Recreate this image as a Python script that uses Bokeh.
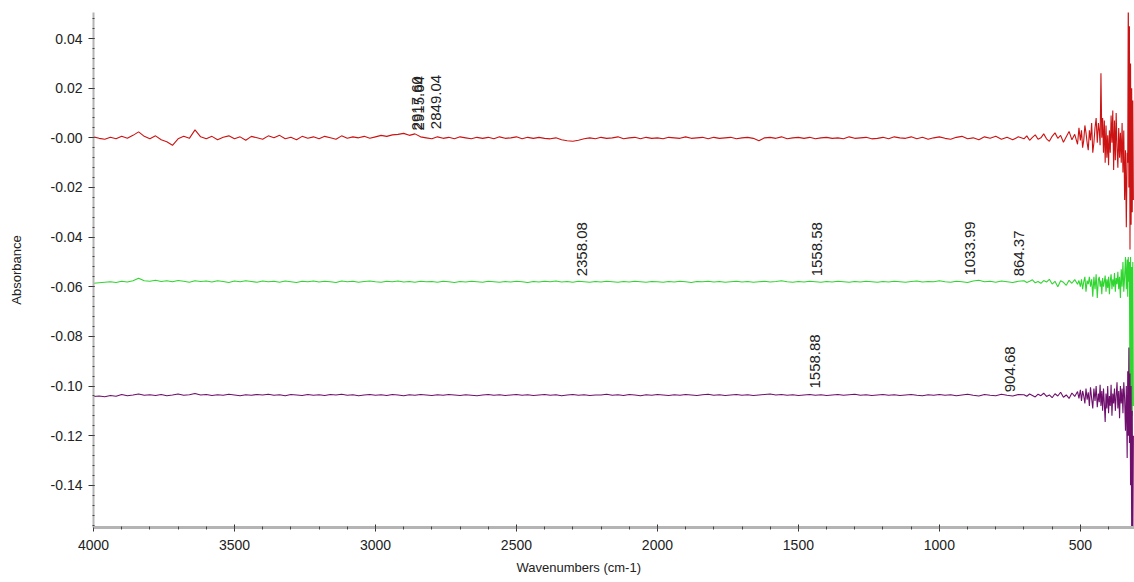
import math
from bokeh.plotting import figure
from bokeh.models import Range1d, SingleIntervalTicker, CustomJSTickFormatter, ColumnDataSource, Title
from bokeh.core.properties import value
from bokeh.embed import file_html
from bokeh.resources import INLINE

# ---------------- data ----------------
# wavenumber sampling (cm-1)
wn_flat = list(range(4000, 719, -20))          # 165 samples
wn_mid = list(range(700, 509, -10))            # 20 samples
wn_end = [505, 500, 496, 492, 488, 484, 480, 476, 472, 468, 464, 460, 456, 452, 448, 444, 440, 436,
          433, 430, 427, 424, 421, 418, 415, 412, 409, 406, 403, 400, 397, 394, 391, 388, 385, 382,
          379, 376, 373, 370, 367, 364, 361, 358, 355, 352, 349, 346, 343, 340, 337, 334,
          332, 330, 328, 326, 324, 322, 320, 318, 316, 314, 312]
wavenumbers = wn_flat + wn_mid + wn_end

red_absorbance = [
    # 4000 - 720
    0.0004, -0.0002, -0.0006, 0.0002, -0.0004, 0.0006, -0.0002, 0.0010, 0.0024, 0.0006,
    -0.0004, 0.0008, -0.0008, -0.0016, -0.0030, -0.0004, 0.0006, -0.0002, 0.0032, 0.0004,
    -0.0004, 0.0006, -0.0008, 0.0002, 0.0008, -0.0004, 0.0004, -0.0010, 0.0006, 0.0000,
    -0.0006, 0.0008, 0.0000, 0.0010, -0.0004, 0.0002, -0.0008, 0.0006, -0.0002, 0.0004,
    -0.0004, 0.0006, 0.0000, -0.0006, 0.0008, -0.0002, 0.0004, 0.0000, 0.0006, -0.0002,
    0.0004, 0.0010, 0.0006, 0.0012, 0.0014, 0.0018, 0.0010, 0.0016, 0.0004, 0.0000,
    -0.0004, 0.0004, -0.0002, 0.0002, -0.0004, 0.0004, 0.0000, -0.0004, 0.0002, -0.0002,
    0.0002, -0.0004, 0.0004, -0.0002, 0.0000, 0.0004, -0.0004, 0.0002, -0.0002, 0.0002,
    -0.0002, -0.0004, 0.0000, -0.0008, -0.0012, -0.0014, -0.0010, -0.0004, 0.0000, -0.0004,
    0.0002, -0.0002, 0.0000, 0.0004, -0.0004, 0.0000, 0.0002, -0.0004, 0.0002, -0.0002,
    0.0000, -0.0004, 0.0002, 0.0000, -0.0002, 0.0004, -0.0002, 0.0000, 0.0002, -0.0004,
    0.0002, -0.0002, 0.0000, 0.0002, -0.0004, 0.0000, 0.0002, -0.0002, -0.0012, 0.0000,
    0.0002, -0.0002, 0.0004, -0.0004, 0.0000, 0.0002, -0.0002, 0.0002, -0.0004, 0.0000,
    0.0002, -0.0002, 0.0000, -0.0004, 0.0004, -0.0002, 0.0000, 0.0002, -0.0004, -0.0002,
    0.0002, -0.0004, 0.0004, 0.0000, -0.0002, 0.0004, -0.0004, 0.0002, -0.0006, 0.0000,
    0.0004, -0.0002, -0.0006, 0.0002, 0.0006, -0.0004, 0.0000, -0.0008, 0.0004, -0.0002,
    0.0006, -0.0006, 0.0002, -0.0008, 0.0004,
    # 700 - 510
    -0.0004, 0.0008, -0.0010, 0.0002, 0.0012, -0.0006, 0.0000, 0.0016, -0.0004, -0.0014,
    0.0006, 0.0020, -0.0002, 0.0010, -0.0018, 0.0004, 0.0026, -0.0008, 0.0014, -0.0026,
    # 505 - 312
    0.0040, -0.0010, 0.0030, -0.0040, -0.0010, 0.0050, 0.0020, -0.0020, -0.0050, 0.0030,
    -0.0010, 0.0060, -0.0060, -0.0020, 0.0040, 0.0080, -0.0020, 0.0060,
    0.0030, -0.0030, 0.0260, 0.0000, 0.0080, -0.0060, 0.0070, -0.0100, 0.0050, -0.0080,
    0.0010, -0.0110, 0.0030, -0.0060, 0.0090, -0.0020, 0.0110, -0.0130, 0.0070, -0.0090,
    0.0100, -0.0040, -0.0120, 0.0040, -0.0080, 0.0020, -0.0100, 0.0060, -0.0140, 0.0030,
    -0.0250, -0.0050, -0.0360, -0.0060,
    -0.0100, 0.0600, -0.0200, 0.0450, -0.0450, 0.0300, -0.0350, 0.0200, -0.0300, 0.0150, -0.0250,
]

green_absorbance = [
    # 4000 - 720
    -0.0586, -0.0584, -0.0582, -0.0580, -0.0583, -0.0578, -0.0581, -0.0576, -0.0566, -0.0576,
    -0.0578, -0.0574, -0.0579, -0.0576, -0.0580, -0.0575, -0.0578, -0.0582, -0.0576, -0.0579,
    -0.0577, -0.0581, -0.0576, -0.0579, -0.0583, -0.0577, -0.0580, -0.0576, -0.0579, -0.0582,
    -0.0577, -0.0580, -0.0578, -0.0582, -0.0577, -0.0580, -0.0583, -0.0578, -0.0580, -0.0577,
    -0.0581, -0.0578, -0.0580, -0.0583, -0.0577, -0.0580, -0.0578, -0.0582, -0.0579, -0.0577,
    -0.0580, -0.0582, -0.0578, -0.0580, -0.0577, -0.0581, -0.0579, -0.0582, -0.0578, -0.0580,
    -0.0579, -0.0582, -0.0578, -0.0580, -0.0583, -0.0579, -0.0581, -0.0578, -0.0580, -0.0582,
    -0.0578, -0.0580, -0.0582, -0.0579, -0.0581, -0.0578, -0.0580, -0.0583, -0.0579, -0.0581,
    -0.0578, -0.0580, -0.0577, -0.0581, -0.0579, -0.0582, -0.0578, -0.0580, -0.0582, -0.0579,
    -0.0581, -0.0578, -0.0580, -0.0582, -0.0579, -0.0581, -0.0578, -0.0580, -0.0582, -0.0579,
    -0.0580, -0.0582, -0.0579, -0.0581, -0.0578, -0.0580, -0.0583, -0.0579, -0.0580, -0.0578,
    -0.0581, -0.0579, -0.0582, -0.0580, -0.0578, -0.0581, -0.0579, -0.0582, -0.0580, -0.0578,
    -0.0581, -0.0579, -0.0576, -0.0580, -0.0582, -0.0579, -0.0581, -0.0578, -0.0580, -0.0582,
    -0.0579, -0.0581, -0.0578, -0.0580, -0.0582, -0.0579, -0.0581, -0.0578, -0.0580, -0.0582,
    -0.0579, -0.0581, -0.0578, -0.0580, -0.0582, -0.0579, -0.0577, -0.0581, -0.0579, -0.0580,
    -0.0576, -0.0580, -0.0582, -0.0578, -0.0580, -0.0583, -0.0577, -0.0574, -0.0580, -0.0578,
    -0.0582, -0.0577, -0.0580, -0.0583, -0.0578,
    # 700 - 510
    -0.0576, -0.0583, -0.0578, -0.0572, -0.0584, -0.0579, -0.0586, -0.0575, -0.0581, -0.0570,
    -0.0589, -0.0578, -0.0600, -0.0576, -0.0582, -0.0594, -0.0574, -0.0586, -0.0571, -0.0590,
    # 505 - 312
    -0.0575, -0.0600, -0.0570, -0.0610, -0.0580, -0.0560, -0.0620, -0.0575, -0.0590, -0.0560,
    -0.0600, -0.0570, -0.0640, -0.0560, -0.0610, -0.0550, -0.0645, -0.0570,
    -0.0560, -0.0600, -0.0575, -0.0630, -0.0565, -0.0600, -0.0580, -0.0555, -0.0620, -0.0570,
    -0.0605, -0.0560, -0.0630, -0.0575, -0.0550, -0.0610, -0.0570, -0.0600, -0.0545, -0.0620,
    -0.0565, -0.0590, -0.0540, -0.0610, -0.0560, -0.0645, -0.0530, -0.0600, -0.0500, -0.0620,
    -0.0560, -0.0480, -0.0610, -0.0490,
    -0.0640, -0.0480, -0.0580, -0.0500, -0.1150, -0.0480, -0.1100, -0.0520, -0.1120, -0.0500, -0.1080,
]

purple_absorbance = [
    # 4000 - 720
    -0.1042, -0.1040, -0.1043, -0.1038, -0.1041, -0.1034, -0.1039, -0.1036, -0.1032, -0.1037,
    -0.1035, -0.1038, -0.1034, -0.1039, -0.1036, -0.1032, -0.1037, -0.1035, -0.1030, -0.1036,
    -0.1034, -0.1038, -0.1035, -0.1037, -0.1033, -0.1036, -0.1039, -0.1035, -0.1037, -0.1034,
    -0.1036, -0.1033, -0.1037, -0.1035, -0.1039, -0.1034, -0.1036, -0.1038, -0.1034, -0.1037,
    -0.1035, -0.1038, -0.1034, -0.1036, -0.1033, -0.1037, -0.1035, -0.1039, -0.1036, -0.1034,
    -0.1037, -0.1035, -0.1038, -0.1034, -0.1036, -0.1039, -0.1035, -0.1037, -0.1034, -0.1036,
    -0.1038, -0.1035, -0.1037, -0.1034, -0.1036, -0.1038, -0.1035, -0.1037, -0.1039, -0.1036,
    -0.1034, -0.1037, -0.1035, -0.1038, -0.1036, -0.1034, -0.1037, -0.1035, -0.1038, -0.1036,
    -0.1034, -0.1037, -0.1035, -0.1039, -0.1036, -0.1034, -0.1037, -0.1035, -0.1038, -0.1036,
    -0.1036, -0.1033, -0.1037, -0.1035, -0.1038, -0.1034, -0.1036, -0.1039, -0.1035, -0.1037,
    -0.1034, -0.1036, -0.1038, -0.1035, -0.1037, -0.1034, -0.1036, -0.1038, -0.1035, -0.1033,
    -0.1037, -0.1035, -0.1038, -0.1036, -0.1034, -0.1037, -0.1035, -0.1038, -0.1036, -0.1034,
    -0.1032, -0.1036, -0.1034, -0.1037, -0.1035, -0.1038, -0.1036, -0.1034, -0.1037, -0.1035,
    -0.1038, -0.1036, -0.1034, -0.1037, -0.1035, -0.1033, -0.1037, -0.1035, -0.1038, -0.1036,
    -0.1034, -0.1037, -0.1035, -0.1038, -0.1036, -0.1034, -0.1037, -0.1039, -0.1035, -0.1037,
    -0.1034, -0.1037, -0.1035, -0.1039, -0.1036, -0.1033, -0.1037, -0.1040, -0.1034, -0.1037,
    -0.1039, -0.1033, -0.1037, -0.1040, -0.1034,
    # 700 - 510
    -0.1035, -0.1041, -0.1032, -0.1038, -0.1044, -0.1033, -0.1039, -0.1029, -0.1042, -0.1036,
    -0.1047, -0.1031, -0.1040, -0.1025, -0.1045, -0.1036, -0.1050, -0.1028, -0.1042, -0.1022,
    # 505 - 312
    -0.1050, -0.1015, -0.1060, -0.1020, -0.1040, -0.1070, -0.1010, -0.1055, -0.1025, -0.1080,
    -0.1005, -0.1050, -0.1090, -0.1010, -0.1060, -0.1000, -0.1085, -0.1030,
    -0.1065, -0.0995, -0.1080, -0.1020, -0.1100, -0.1010, -0.1070, -0.1145, -0.1030, -0.1090,
    -0.1000, -0.1110, -0.1040, -0.1080, -0.0995, -0.1120, -0.1030, -0.1070, -0.1010, -0.1100,
    -0.1040, -0.0985, -0.1090, -0.1020, -0.1130, -0.1000, -0.1070, -0.1010, -0.1110, -0.0985,
    -0.1050, -0.1180, -0.1000, -0.1290,
    -0.0940, -0.1200, -0.0845, -0.1230, -0.0950, -0.1400, -0.1000, -0.1600, -0.1100, -0.1650, -0.1200,
]

peak_labels = ["2917.60", "2915.64", "2849.04", "2358.08", "1558.58", "1033.99", "864.37", "1558.88", "904.68"]
peak_label_x = [2851, 2845, 2784, 2266, 1433, 890, 716, 1440, 748]
peak_label_y = [0.0030, 0.0030, 0.0035, -0.0558, -0.0558, -0.0555, -0.0558, -0.1010, -0.1025]

x_title = "Wavenumbers (cm-1)"
y_title = "Absorbance"

# ---------------- figure ----------------
FONT = "Liberation Sans"

p = figure(width=1134, height=582, output_backend="svg", toolbar_location=None,
           x_range=Range1d(4000, 308), y_range=Range1d(-0.157, 0.0505),
           min_border_left=93, min_border_right=0, min_border_top=12, min_border_bottom=55,
           background_fill_color="white", border_fill_color="white")
p.outline_line_color = None
p.xgrid.visible = False
p.ygrid.visible = False

p.line(wavenumbers, red_absorbance, line_color="#cc1212", line_width=1.1)
p.line(wavenumbers, green_absorbance, line_color="#2fd62f", line_width=1.1)
p.line(wavenumbers, purple_absorbance, line_color="#6e0f6c", line_width=1.1)

src = ColumnDataSource(dict(x=peak_label_x, y=peak_label_y, t=peak_labels))
p.text(x="x", y="y", text="t", source=src, angle=math.pi / 2,
       text_align="left", text_baseline="middle",
       text_font=value(FONT), text_font_size="15px", text_color="#222222")

# x title below the axis, offset to where the reference has it
p.add_layout(Title(text=x_title, align="left", offset=423, standoff=11,
                   text_font=FONT, text_font_size="13px", text_font_style="normal",
                   text_color="#222222"), "below")

# axes
xa = p.xaxis[0]
xa.ticker = SingleIntervalTicker(interval=500, num_minor_ticks=5)
ya = p.yaxis[0]
ya.ticker = SingleIntervalTicker(interval=0.02, num_minor_ticks=5)
ya.formatter = CustomJSTickFormatter(code="""
    if (Math.abs(tick) < 1e-9) { return '-0.00'; }
    return tick.toFixed(2);
""")
ya.axis_label = y_title

for ax in (xa, ya):
    ax.axis_line_color = "#b4b4b4"
    ax.major_tick_line_color = "#333333"
    ax.minor_tick_line_color = "#444444"
    ax.major_label_text_font = FONT
    ax.major_label_text_font_size = "14px"
    ax.major_label_text_color = "#222222"
    ax.axis_label_text_font = FONT
    ax.axis_label_text_font_size = "13px"
    ax.axis_label_text_font_style = "normal"
    ax.axis_label_text_color = "#222222"

xa.axis_line_width = 3
xa.major_tick_in = 3
xa.major_tick_out = 4
xa.minor_tick_in = 1
xa.minor_tick_out = 2
xa.major_label_standoff = 8

ya.axis_line_width = 2
ya.major_tick_in = 1
ya.major_tick_out = 5
ya.minor_tick_in = 1
ya.minor_tick_out = 1
ya.major_label_standoff = 6
ya.axis_label_standoff = 24

open("out.html", "w").write(file_html(p, INLINE))
